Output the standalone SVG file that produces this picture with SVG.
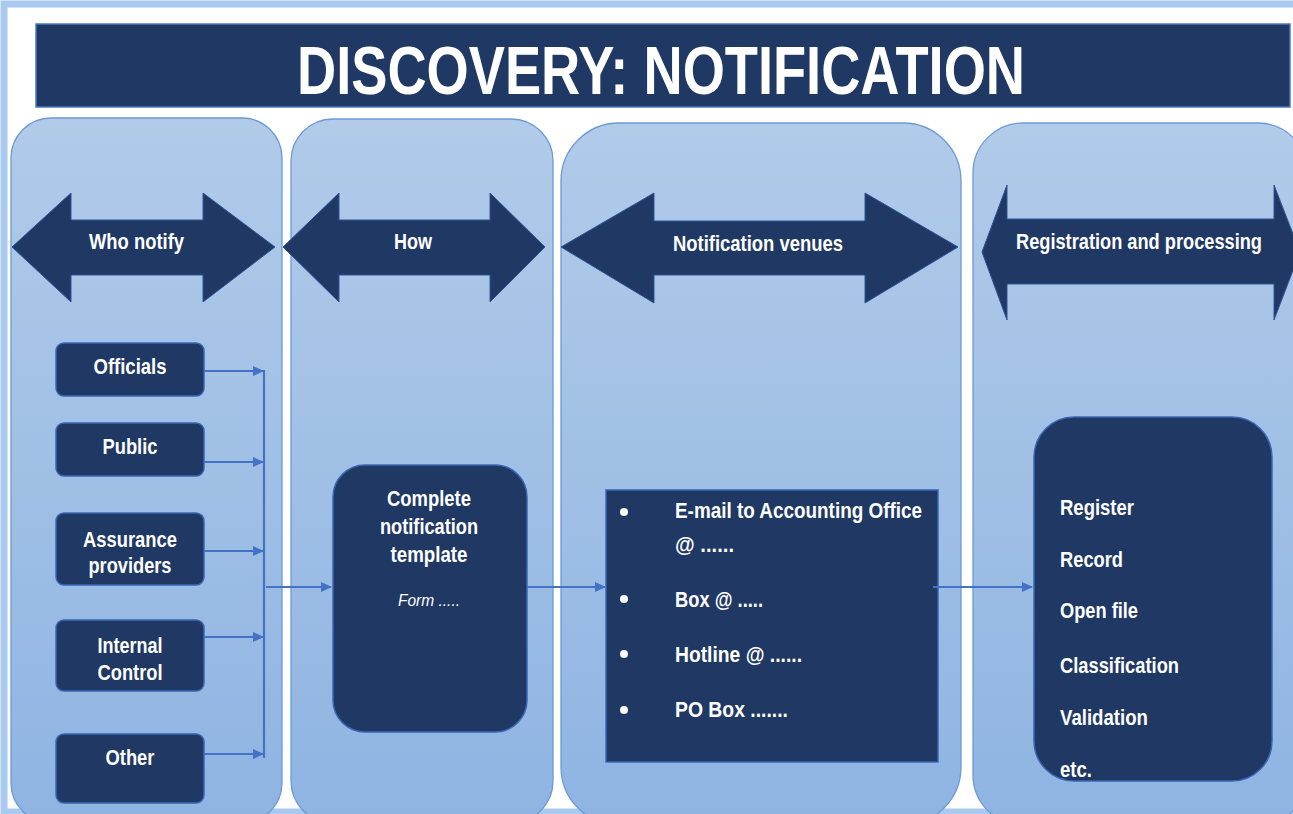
<svg xmlns="http://www.w3.org/2000/svg" width="1293" height="814" viewBox="0 0 1293 814">
<defs>
<linearGradient id="colg" x1="0" y1="0" x2="0" y2="1">
<stop offset="0" stop-color="#b1cbe9"/>
<stop offset="1" stop-color="#8fb4e2"/>
</linearGradient>
<marker id="ah" markerUnits="userSpaceOnUse" markerWidth="11" markerHeight="10" refX="10" refY="5" orient="auto">
<path d="M0,0 L11,5 L0,10 z" fill="#4472c4"/>
</marker>
<style>
.col{fill:url(#colg);stroke:#6a9ad6;stroke-width:1.3}
.dark{fill:#1f3864;stroke:#3a66b4;stroke-width:1.5}
.arr{fill:#1f3864;stroke:#2f5597;stroke-width:1}
.t{fill:#ffffff;font-family:"Liberation Sans Narrow","Liberation Sans",Arial,sans-serif;font-weight:bold;font-size:22px}
.c{text-anchor:middle}
.con{stroke:#4472c4;stroke-width:2.2;fill:none}
</style>
</defs>
<rect x="0" y="0" width="1293" height="814" fill="#ffffff"/>
<rect x="4" y="4" width="1300" height="808" fill="none" stroke="#a9c9ef" stroke-width="7"/>

<g id="title">
<rect x="36" y="24" width="1254" height="83" fill="#1f3864" stroke="#4a78c0" stroke-width="1.5"/>
<text x="297" y="94" textLength="728" lengthAdjust="spacingAndGlyphs" style="fill:#ffffff;font-family:'Liberation Sans Narrow','Liberation Sans',Arial,sans-serif;font-weight:bold;font-size:69px">DISCOVERY: NOTIFICATION</text>
</g>

<g id="col-who">
<rect class="col" x="11" y="118" width="271" height="705" rx="40"/>
<polygon class="arr" points="12,247 71,193 71,220 203,220 203,193 275,247 203,302 203,275 71,275 71,302"/>
<text class="t c" x="136.5" y="249" textLength="95" lengthAdjust="spacingAndGlyphs">Who notify</text>
</g>
<g id="col-how">
<rect class="col" x="291" y="119" width="262" height="704" rx="42"/>
<polygon class="arr" points="283,247 339,193 339,220 490,220 490,193 545,247 490,302 490,275 339,275 339,302"/>
<text class="t c" x="413" y="249" textLength="38" lengthAdjust="spacingAndGlyphs">How</text>
</g>
<g id="col-venues">
<rect class="col" x="561" y="123" width="400" height="702" rx="58"/>
<polygon class="arr" points="561,247 654,193 654,221 865,221 865,193 958,247 865,303 865,275 654,275 654,303"/>
<text class="t c" x="758" y="251" textLength="170" lengthAdjust="spacingAndGlyphs">Notification venues</text>
</g>
<g id="col-registration">
<rect class="col" x="973" y="123" width="335" height="702" rx="50"/>
<polygon class="arr" points="982,252 1007,185 1007,219 1274,219 1274,185 1300,252 1274,320 1274,284 1007,284 1007,320"/>
<text class="t c" x="1139" y="249" textLength="246" lengthAdjust="spacingAndGlyphs">Registration and processing</text>
</g>

<g id="officials">
<rect class="dark" x="56" y="343" width="148" height="53" rx="8"/>
<text class="t c" x="130" y="374" textLength="73" lengthAdjust="spacingAndGlyphs">Officials</text>
</g>
<g id="public">
<rect class="dark" x="56" y="423" width="148" height="53" rx="8"/>
<text class="t c" x="130" y="454" textLength="55" lengthAdjust="spacingAndGlyphs">Public</text>
</g>
<g id="assurance">
<rect class="dark" x="56" y="513" width="148" height="72" rx="8"/>
<text class="t c" x="130" y="547" textLength="94" lengthAdjust="spacingAndGlyphs">Assurance</text>
<text class="t c" x="130" y="573" textLength="83" lengthAdjust="spacingAndGlyphs">providers</text>
</g>
<g id="internal">
<rect class="dark" x="56" y="620" width="148" height="71" rx="8"/>
<text class="t c" x="130" y="653" textLength="65" lengthAdjust="spacingAndGlyphs">Internal</text>
<text class="t c" x="130" y="680" textLength="65" lengthAdjust="spacingAndGlyphs">Control</text>
</g>
<g id="other">
<rect class="dark" x="56" y="734" width="148" height="69" rx="8"/>
<text class="t c" x="130" y="765" textLength="49" lengthAdjust="spacingAndGlyphs">Other</text>
</g>

<g id="template">
<rect class="dark" x="333" y="465" width="194" height="267" rx="32"/>
<text class="t c" x="429" y="506" textLength="84" lengthAdjust="spacingAndGlyphs">Complete</text>
<text class="t c" x="429" y="534" textLength="98" lengthAdjust="spacingAndGlyphs">notification</text>
<text class="t c" x="429" y="562" textLength="77" lengthAdjust="spacingAndGlyphs">template</text>
<text class="c" x="429" y="606" textLength="62" lengthAdjust="spacingAndGlyphs" style="fill:#ffffff;font-family:'Liberation Sans Narrow','Liberation Sans',Arial,sans-serif;font-style:italic;font-size:16px">Form .....</text>
</g>

<g id="venues">
<rect class="dark" x="606" y="490" width="332" height="272"/>
<g fill="#ffffff">
<circle cx="624" cy="512" r="4"/>
<circle cx="624" cy="599" r="4"/>
<circle cx="624" cy="654" r="4"/>
<circle cx="624" cy="710" r="4"/>
</g>
<text class="t" x="675" y="518" textLength="247" lengthAdjust="spacingAndGlyphs">E-mail to Accounting Office</text>
<text class="t" x="675" y="552" textLength="59" lengthAdjust="spacingAndGlyphs">@ ......</text>
<text class="t" x="675" y="607" textLength="88" lengthAdjust="spacingAndGlyphs">Box @ .....</text>
<text class="t" x="675" y="662" textLength="127" lengthAdjust="spacingAndGlyphs">Hotline @ ......</text>
<text class="t" x="675" y="717" textLength="113" lengthAdjust="spacingAndGlyphs">PO Box .......</text>
</g>

<g id="processing">
<rect class="dark" x="1034" y="417" width="238" height="364" rx="40"/>
<text class="t" x="1060" y="515" textLength="74" lengthAdjust="spacingAndGlyphs">Register</text>
<text class="t" x="1060" y="567" textLength="63" lengthAdjust="spacingAndGlyphs">Record</text>
<text class="t" x="1060" y="618" textLength="78" lengthAdjust="spacingAndGlyphs">Open file</text>
<text class="t" x="1060" y="673" textLength="119" lengthAdjust="spacingAndGlyphs">Classification</text>
<text class="t" x="1060" y="725" textLength="88" lengthAdjust="spacingAndGlyphs">Validation</text>
<text class="t" x="1060" y="777" textLength="32" lengthAdjust="spacingAndGlyphs">etc.</text>
</g>

<g id="connectors">
<line class="con" x1="204" y1="371" x2="263" y2="371" marker-end="url(#ah)"/>
<line class="con" x1="204" y1="462" x2="263" y2="462" marker-end="url(#ah)"/>
<line class="con" x1="204" y1="551" x2="263" y2="551" marker-end="url(#ah)"/>
<line class="con" x1="204" y1="637" x2="263" y2="637" marker-end="url(#ah)"/>
<line class="con" x1="204" y1="754" x2="263" y2="754" marker-end="url(#ah)"/>
<line class="con" x1="264" y1="370" x2="264" y2="758"/>
<line class="con" x1="266" y1="587" x2="331" y2="587" marker-end="url(#ah)"/>
<line class="con" x1="527" y1="587" x2="605" y2="587" marker-end="url(#ah)"/>
<line class="con" x1="933" y1="587" x2="1032" y2="587" marker-end="url(#ah)"/>
</g>
</svg>
